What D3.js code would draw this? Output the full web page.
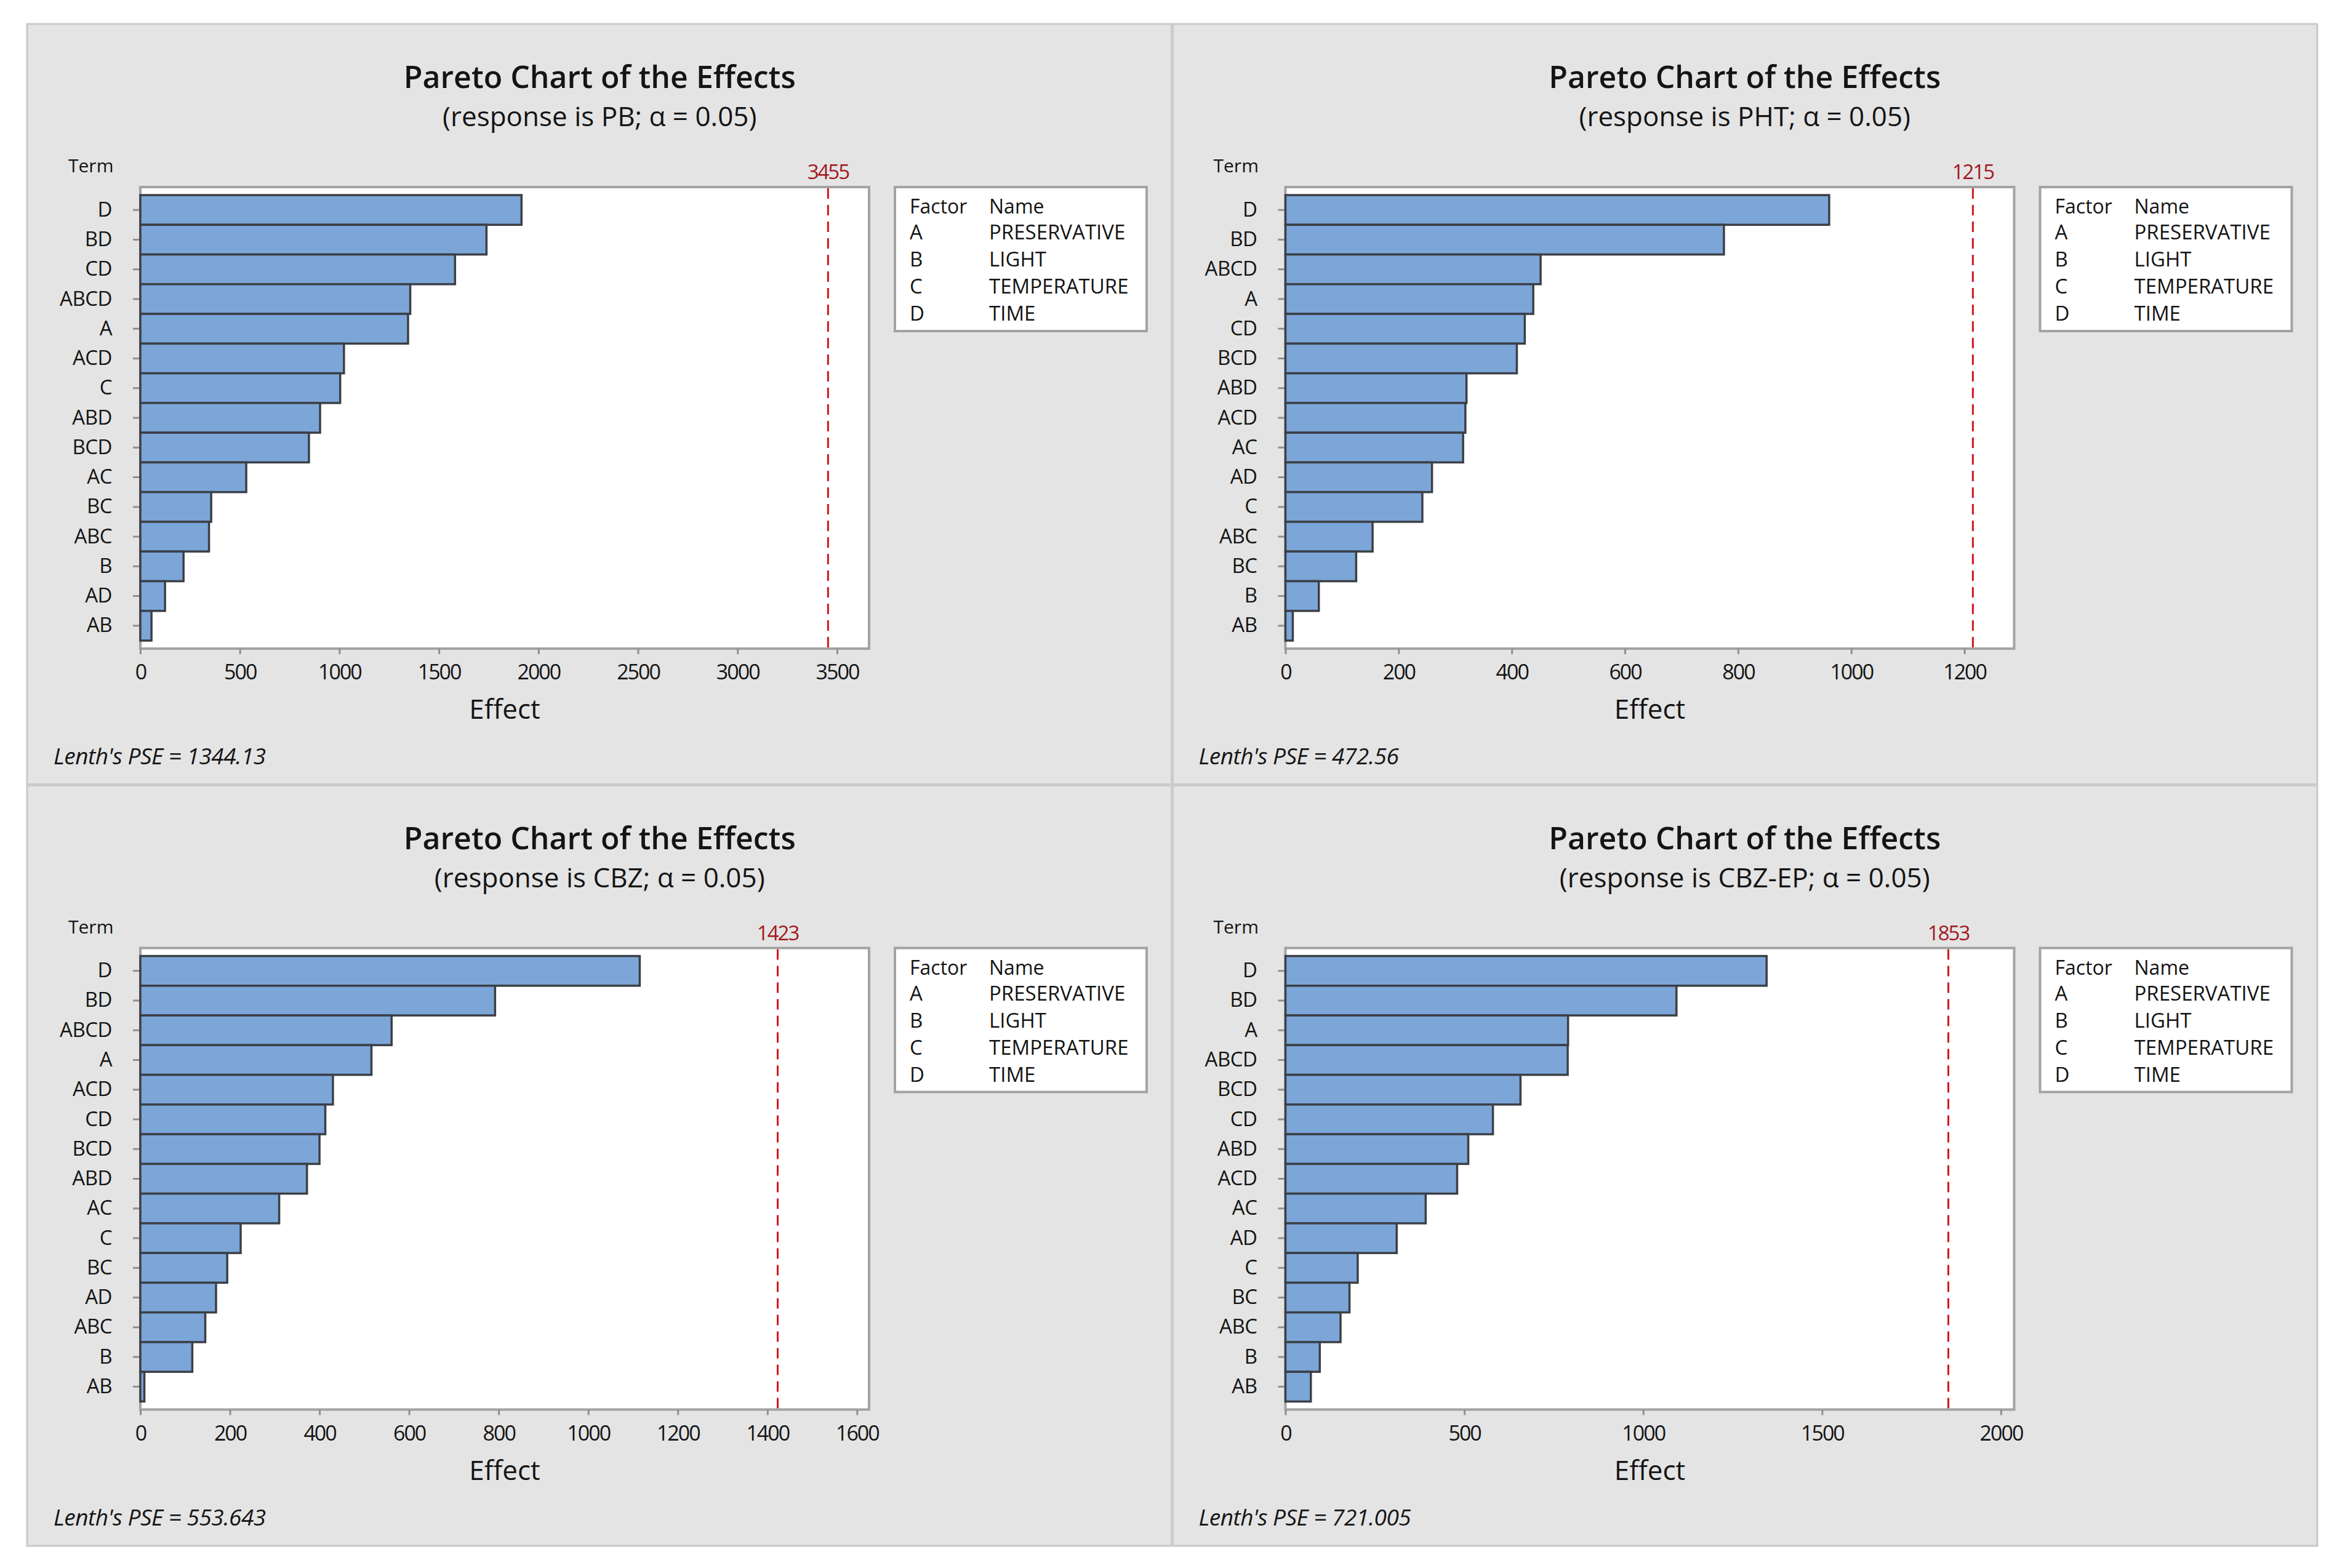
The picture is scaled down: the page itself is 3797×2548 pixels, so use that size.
<!DOCTYPE html>
<meta charset="utf-8">
<script src="https://d3js.org/d3.v7.min.js"></script>
<style>
  body { margin: 0; background: #fff; }
  text { font-family: "Open Sans", "Noto Sans", sans-serif; fill: #141414; }
</style>
<div id="chart"></div>
<script>
// ---- data ----
const responses = ["PB", "PHT", "CBZ", "CBZ-EP"];
const lenthPSE = ["1344.13", "472.56", "553.643", "721.005"];
const refEffects = [3455, 1215, 1423, 1853];
const xMax = [3661, 1288, 1627, 2037];

const ticksPB = [0, 500, 1000, 1500, 2000, 2500, 3000, 3500];
const ticksPHT = [0, 200, 400, 600, 800, 1000, 1200];
const ticksCBZ = [0, 200, 400, 600, 800, 1000, 1200, 1400, 1600];
const ticksCBZEP = [0, 500, 1000, 1500, 2000];

const termsPB = ["D", "BD", "CD", "ABCD", "A", "ACD", "C", "ABD", "BCD", "AC", "BC", "ABC", "B", "AD", "AB"];
const effectsPB = [1915, 1739, 1581, 1356, 1345, 1023, 1004, 903, 847, 532, 356, 345, 217, 124, 56];

const termsPHT = ["D", "BD", "ABCD", "A", "CD", "BCD", "ABD", "ACD", "AC", "AD", "C", "ABC", "BC", "B", "AB"];
const effectsPHT = [961, 775, 451, 438, 423, 409, 320, 318, 314, 259, 242, 154, 125, 59, 13];

const termsCBZ = ["D", "BD", "ABCD", "A", "ACD", "CD", "BCD", "ABD", "AC", "C", "BC", "AD", "ABC", "B", "AB"];
const effectsCBZ = [1115, 792, 561, 516, 430, 413, 400, 372, 310, 224, 194, 169, 145, 116, 9];

const termsCBZEP = ["D", "BD", "A", "ABCD", "BCD", "CD", "ABD", "ACD", "AC", "AD", "C", "BC", "ABC", "B", "AB"];
const effectsCBZEP = [1345, 1093, 790, 789, 657, 580, 511, 480, 392, 311, 202, 179, 154, 96, 71];

const factorCodes = ["A", "B", "C", "D"];
const factorNames = ["PRESERVATIVE", "LIGHT", "TEMPERATURE", "TIME"];

const allTerms = [termsPB, termsPHT, termsCBZ, termsCBZEP];
const allEffects = [effectsPB, effectsPHT, effectsCBZ, effectsCBZEP];
const allTicks = [ticksPB, ticksPHT, ticksCBZ, ticksCBZEP];

// ---- layout ----
var width = 3797, height = 2548;
var frame = { x: 44, y: 39, w: 3721, h: 2473 };
var pw = frame.w / 2, ph = frame.h / 2;
var plot = { left: 184, right: 1368, top: 265, bottom: 1015 };

var svg = d3.select("#chart")
  .append("svg")
  .attr("width", width)
  .attr("height", height);

svg.append("rect")
  .attr("width", width).attr("height", height)
  .attr("fill", "#fff");

svg.append("rect")
  .attr("x", frame.x).attr("y", frame.y)
  .attr("width", frame.w).attr("height", frame.h)
  .attr("fill", "#e4e4e4")
  .attr("stroke", "#c9c9c9")
  .attr("stroke-width", 3);

// panel dividers
svg.append("line")
  .attr("x1", frame.x + pw).attr("x2", frame.x + pw)
  .attr("y1", frame.y).attr("y2", frame.y + frame.h)
  .attr("stroke", "#cbcbcb").attr("stroke-width", 5);
svg.append("line")
  .attr("x1", frame.x).attr("x2", frame.x + frame.w)
  .attr("y1", frame.y + ph).attr("y2", frame.y + ph)
  .attr("stroke", "#cbcbcb").attr("stroke-width", 5);

function drawPanel(i) {
  var col = i % 2, row = Math.floor(i / 2);
  var g = svg.append("g")
    .attr("transform", "translate(" + (frame.x + col * pw) + "," + (frame.y + row * ph) + ")");

  var terms = allTerms[i], effects = allEffects[i];

  var x = d3.scaleLinear()
    .domain([0, xMax[i]])
    .range([plot.left, plot.right]);

  var y = d3.scaleBand()
    .domain(terms)
    .range([plot.top, plot.bottom])
    .paddingInner(0)
    .paddingOuter(0.27);

  // titles
  g.append("text")
    .attr("x", pw / 2).attr("y", 104)
    .attr("text-anchor", "middle")
    .style("font-size", "50px")
    .style("font-weight", 600)
    .text("Pareto Chart of the Effects");

  g.append("text")
    .attr("x", pw / 2).attr("y", 166)
    .attr("text-anchor", "middle")
    .style("font-size", "44px")
    .text("(response is " + responses[i] + "; \u03b1 = 0.05)");

  g.append("text")
    .attr("x", 67).attr("y", 241)
    .style("font-size", "30px")
    .text("Term");

  // plot area
  g.append("rect")
    .attr("x", plot.left).attr("y", plot.top)
    .attr("width", plot.right - plot.left)
    .attr("height", plot.bottom - plot.top)
    .attr("fill", "#fff")
    .attr("stroke", "#a3a3a3")
    .attr("stroke-width", 4);

  // axes
  var xAxis = g.append("g")
    .attr("transform", "translate(0," + plot.bottom + ")")
    .call(d3.axisBottom(x).tickValues(allTicks[i]).tickSize(9).tickFormat(d3.format("d")));
  xAxis.select(".domain").remove();
  xAxis.selectAll(".tick line").attr("stroke", "#8f8f8f").attr("stroke-width", 3);
  xAxis.selectAll(".tick text")
    .attr("y", 50).attr("dy", 0)
    .style("font-size", "34px")
    .style("letter-spacing", "-2px")
    .attr("fill", "#141414");

  var yAxis = g.append("g")
    .attr("transform", "translate(" + plot.left + ",0)")
    .call(d3.axisLeft(y).tickSize(12).tickPadding(34));
  yAxis.select(".domain").remove();
  yAxis.selectAll(".tick line").attr("stroke", "#8f8f8f").attr("stroke-width", 3);
  yAxis.selectAll(".tick text")
    .style("font-size", "33px")
    .style("letter-spacing", "-0.5px")
    .attr("fill", "#141414");

  // bars
  g.selectAll(".bar")
    .data(terms)
    .enter()
    .append("rect")
    .attr("class", "bar")
    .attr("x", x(0))
    .attr("y", function (d) { return y(d); })
    .attr("width", function (d, j) { return x(effects[j]) - x(0); })
    .attr("height", y.bandwidth())
    .attr("fill", "#7ca6d8")
    .attr("stroke", "#3b3f46")
    .attr("stroke-width", 3.5);

  // reference line
  g.append("line")
    .attr("x1", x(refEffects[i])).attr("x2", x(refEffects[i]))
    .attr("y1", plot.top + 2).attr("y2", plot.bottom - 2)
    .attr("stroke", "#d11820")
    .attr("stroke-width", 3)
    .attr("stroke-dasharray", "17,10");

  g.append("text")
    .attr("x", x(refEffects[i])).attr("y", 252)
    .attr("text-anchor", "middle")
    .style("font-size", "33px")
    .style("letter-spacing", "-2px")
    .style("fill", "#a3171f")
    .text(refEffects[i]);

  // axis title
  g.append("text")
    .attr("x", (plot.left + plot.right) / 2).attr("y", 1129)
    .attr("text-anchor", "middle")
    .style("font-size", "44px")
    .text("Effect");

  g.append("text")
    .attr("x", 43).attr("y", 1203)
    .style("font-size", "37px")
    .style("font-style", "italic")
    .style("letter-spacing", "-0.5px")
    .text("Lenth's PSE = " + lenthPSE[i]);

  // factor legend
  var leg = g.append("g").attr("transform", "translate(1410," + plot.top + ")");
  leg.append("rect")
    .attr("width", 409).attr("height", 234)
    .attr("fill", "#fff")
    .attr("stroke", "#a3a3a3")
    .attr("stroke-width", 4);

  leg.append("text").attr("x", 24).attr("y", 43).style("font-size", "32px").text("Factor");
  leg.append("text").attr("x", 153).attr("y", 43).style("font-size", "32px").text("Name");

  leg.selectAll(".code")
    .data(factorCodes)
    .enter()
    .append("text")
    .attr("class", "code")
    .attr("x", 24)
    .attr("y", function (d, j) { return 85 + j * 44; })
    .style("font-size", "33px")
    .text(function (d) { return d; });

  leg.selectAll(".fname")
    .data(factorNames)
    .enter()
    .append("text")
    .attr("class", "fname")
    .attr("x", 153)
    .attr("y", function (d, j) { return 85 + j * 44; })
    .style("font-size", "33px")
    .text(function (d) { return d; });
}

for (var i = 0; i < 4; i++) drawPanel(i);
</script>
